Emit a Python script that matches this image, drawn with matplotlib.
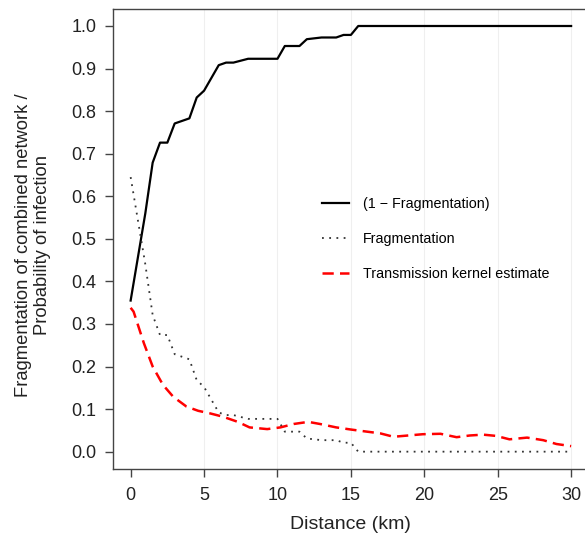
import matplotlib
matplotlib.use("Agg")
import matplotlib.pyplot as plt
import numpy as np

plt.rcParams['font.family'] = ['Liberation Sans', 'DejaVu Sans']

# distance steps (km) and fragmentation of the combined network
dist = [0, 1, 1.5, 2, 2.5, 3, 4, 4.5, 5, 6, 6.5, 7, 8, 10, 10.5, 11.5, 12,
        13, 14, 14.5, 15, 15.5, 30]
frag = [0.645, 0.44, 0.321, 0.274, 0.274, 0.229, 0.217, 0.168, 0.152, 0.092,
        0.086, 0.086, 0.077, 0.077, 0.047, 0.047, 0.031, 0.027, 0.027, 0.021,
        0.021, 0.0, 0.0]

# transmission kernel estimate
kern_x = [0, 0.2, 0.9, 1.5, 2.2, 2.9, 3.8, 4.6, 5.4, 6.3, 7.3, 8.1, 9.3, 10.2,
          11.1, 12.1, 12.9, 14.0, 15.0, 16.1, 17.0, 17.9, 18.9, 19.9, 21.1,
          22.2, 23.1, 24.0, 24.9, 25.8, 27.0, 28.1, 29.0, 30.0]
kern_y = [0.338, 0.329, 0.255, 0.200, 0.157, 0.129, 0.106, 0.096, 0.090,
          0.082, 0.070, 0.057, 0.053, 0.057, 0.065, 0.070, 0.065, 0.057,
          0.052, 0.047, 0.043, 0.035, 0.038, 0.041, 0.042, 0.034, 0.038,
          0.040, 0.037, 0.029, 0.033, 0.027, 0.018, 0.013]

one_minus = 1 - np.array(frag)

fig = plt.figure(figsize=(5.85, 5.34), dpi=100)
ax = fig.add_axes([0.1932, 0.1223, 0.8132, 0.8609])

# faint vertical guide lines
for gx in [5, 10, 15, 20, 25, 30]:
    ax.axvline(gx, color='#efefef', lw=0.8, zorder=0)

ax.plot(dist, one_minus, color='black', lw=1.6, label='(1 \u2212 Fragmentation)')
ax.plot(dist, frag, color='#333333', lw=1.3, linestyle=(0, (1, 3)),
        label='Fragmentation')
ax.plot(kern_x, kern_y, color='red', lw=1.8, linestyle=(0, (4.5, 2.5)),
        label='Transmission kernel estimate')

ax.set_xlim(-1.2, 31.2)
ax.set_ylim(-0.04, 1.04)
ax.set_xticks([0, 5, 10, 15, 20, 25, 30])
ax.set_yticks(np.arange(0, 1.01, 0.1))
ax.set_yticklabels(['%.1f' % v for v in np.arange(0, 1.01, 0.1)])

for s in ax.spines.values():
    s.set_color('#444444')
    s.set_linewidth(1.0)
ax.spines['right'].set_visible(False)
ax.tick_params(length=6, width=1.0, color='#444444', labelsize=13,
               labelcolor='#222222', pad=6)
ax.tick_params(axis='x', pad=7)

ax.set_xlabel('Distance (km)', fontsize=14, color='#222222', labelpad=9)
ax.set_ylabel('Fragmentation of combined network /\nProbability of infection',
              fontsize=13.2, color='#222222', linespacing=1.1)
ax.yaxis.set_label_coords(-0.131, 0.487)

ax.legend(loc='upper left', bbox_to_anchor=(0.412, 0.62), frameon=False,
          fontsize=10.3, handlelength=1.86, handletextpad=1.0,
          labelspacing=1.48)

fig.savefig('out.png', dpi=100)
